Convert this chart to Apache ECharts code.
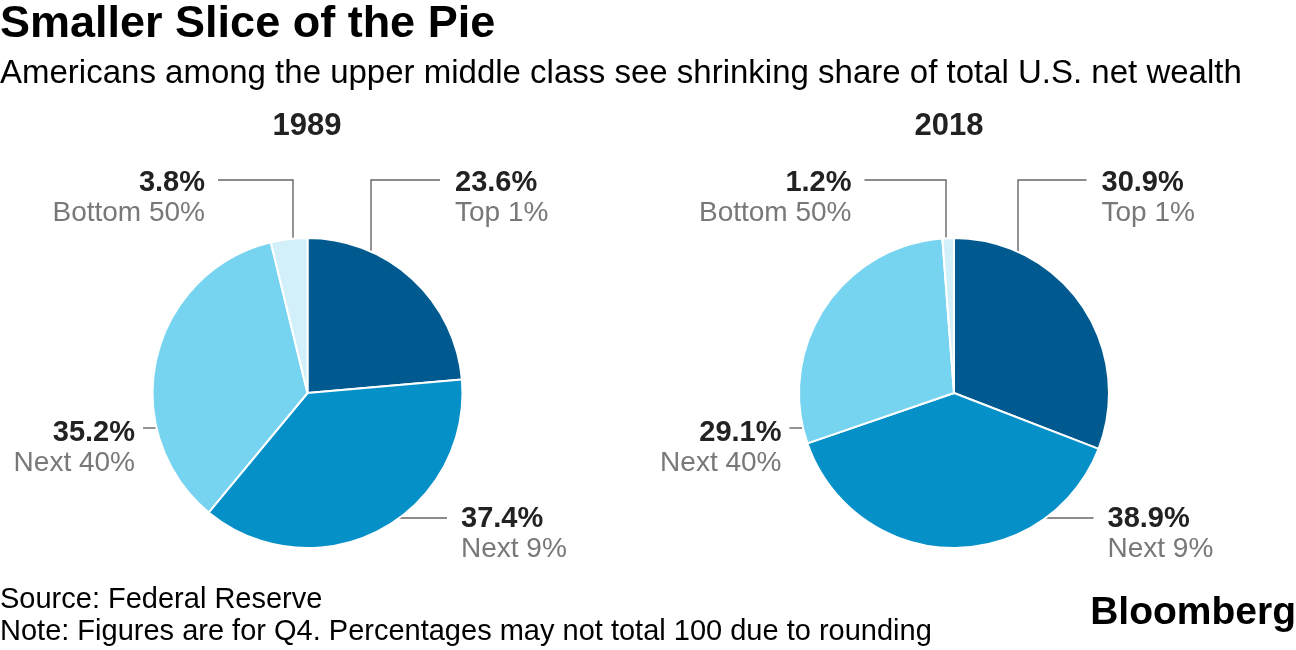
<!DOCTYPE html>
<html>
<head>
<meta charset="utf-8">
<script src="https://cdn.jsdelivr.net/npm/echarts@6/dist/echarts.min.js"></script>
<style>
html,body{margin:0;padding:0;background:#fff;}
#c{width:1296px;height:650px;}
</style>
</head>
<body>
<div id="c"></div>
<script>
// ---- data ----
const categories = ['Top 1%', 'Next 9%', 'Next 40%', 'Bottom 50%'];
const years = ['1989', '2018'];
const values1989 = [23.6, 37.4, 35.2, 3.8];
const values2018 = [30.9, 38.9, 29.1, 1.2];
const seriesValues = [values1989, values2018];

// ---- layout & style ----
const FONT = '"Liberation Sans", Arial, sans-serif';
const COLORS = ['#005a8f', '#0690c8', '#77d4f0', '#d2f0fa'];
const CENTERS = [[307.5, 393], [954, 393]];
const RADIUS = 155;
// label placement relative to each pie centre
const PLACE = [
  { align: 'left',  lx: 147.5, by: -195, ly: -213, elbow: [63.5, 64], gap: -15, kind: 'top' },
  { align: 'left',  lx: 153.5, by: 141,  ly: 125,  gap: -14, kind: 'side' },
  { align: 'right', lx: -172.5, by: 55,  ly: 35,   gap: 8,   kind: 'side' },
  { align: 'right', lx: -102.5, by: -195, ly: -213, elbow: [-14.5, -8], gap: 13, kind: 'top' }
];

function makeLayout(s) {
  return function (params) {
    const i = params.dataIndex;
    const p = PLACE[i];
    const cx = CENTERS[s][0], cy = CENTERS[s][1];
    const lx = cx + p.lx;
    const ly = cy + p.ly;
    let pts;
    if (p.kind === 'top') {
      const ex = cx + p.elbow[s];
      const dx = ex - cx;
      const ey = cy - Math.sqrt(RADIUS * RADIUS - dx * dx) + 1;
      pts = [[ex, ey], [ex, ly], [lx + p.gap, ly]];
    } else {
      const dy = p.ly;
      const w = Math.sqrt(RADIUS * RADIUS - dy * dy) - 1;
      const ex = p.align === 'left' ? cx + w : cx - w;
      const endX = lx + p.gap;
      pts = [[ex, ly], [(ex + endX) / 2, ly], [endX, ly]];
    }
    return {
      x: lx,
      y: cy + p.by,
      align: p.align,
      verticalAlign: 'middle',
      labelLinePoints: pts
    };
  };
}

function makeSeries(s) {
  return {
    type: 'pie',
    center: CENTERS[s],
    radius: RADIUS,
    startAngle: 90,
    clockwise: true,
    avoidLabelOverlap: false,
    animation: false,
    emphasis: { scale: false },
    itemStyle: { borderColor: '#ffffff', borderWidth: 2 },
    data: categories.map((name, i) => ({
      name: name,
      value: seriesValues[s][i],
      itemStyle: { color: COLORS[i] },
      label: { align: PLACE[i].align }
    })),
    label: {
      show: true,
      position: 'outside',
      formatter: p => '{v|' + p.value.toFixed(1) + '%}\n{n|' + p.name + '}',
      rich: {
        v: { fontFamily: FONT, fontSize: 29, fontWeight: 'bold', color: '#222222', lineHeight: 30 },
        n: { fontFamily: FONT, fontSize: 28, color: '#787878', lineHeight: 30 }
      }
    },
    labelLine: { show: true, lineStyle: { color: '#666666', width: 1.4 } },
    labelLayout: makeLayout(s)
  };
}

const chart = echarts.init(document.getElementById('c'), null, { renderer: 'canvas' });
chart.setOption({
  backgroundColor: '#ffffff',
  animation: false,
  title: [
    { text: 'Smaller Slice of the Pie', left: 0, top: 2, padding: 0,
      textStyle: { fontFamily: FONT, fontSize: 45, fontWeight: 'bold', color: '#000', lineHeight: 46 } },
    { text: 'Americans among the upper middle class see shrinking share of total U.S. net wealth', left: 0, top: 57, padding: 0,
      textStyle: { fontFamily: FONT, fontSize: 33, fontWeight: 'normal', color: '#000', lineHeight: 34 } },
    { text: years[0], left: 307, top: 110, textAlign: 'center', padding: 0,
      textStyle: { fontFamily: FONT, fontSize: 31, fontWeight: 'bold', color: '#222', lineHeight: 32 } },
    { text: years[1], left: 949, top: 110, textAlign: 'center', padding: 0,
      textStyle: { fontFamily: FONT, fontSize: 31, fontWeight: 'bold', color: '#222', lineHeight: 32 } },
    { text: 'Source: Federal Reserve', left: 0, top: 585, padding: 0,
      textStyle: { fontFamily: FONT, fontSize: 29, fontWeight: 'normal', color: '#000', lineHeight: 30 } },
    { text: 'Note: Figures are for Q4. Percentages may not total 100 due to rounding', left: 0, top: 617, padding: 0,
      textStyle: { fontFamily: FONT, fontSize: 29, fontWeight: 'normal', color: '#000', lineHeight: 30 } },
    { text: 'Bloomberg', right: 0, top: 593, padding: 0,
      textStyle: { fontFamily: FONT, fontSize: 39, fontWeight: 'bold', color: '#000', lineHeight: 40 } }
  ],
  series: [makeSeries(0), makeSeries(1)]
});
</script>
</body>
</html>
